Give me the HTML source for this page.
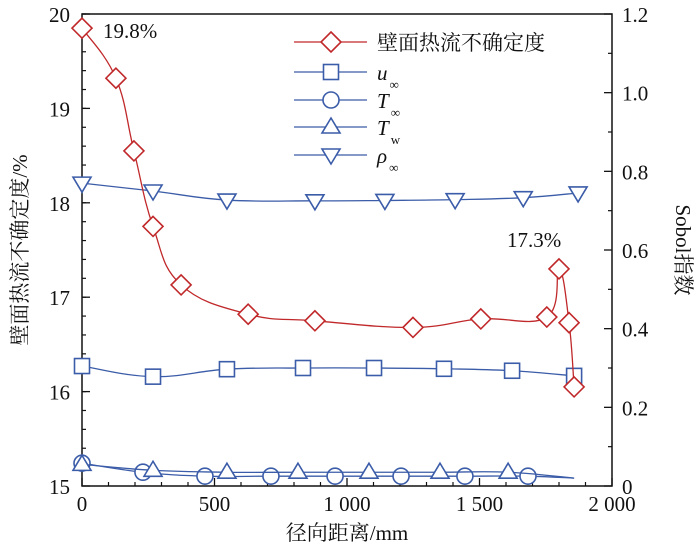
<!DOCTYPE html>
<html><head><meta charset="utf-8"><style>
body{margin:0;background:#fff}
svg text{font-family:"Liberation Serif","Times New Roman","DejaVu Serif","Noto Serif CJK SC",serif;fill:#111}
</style></head><body>
<svg width="700" height="551" viewBox="0 0 700 551">
<g id="plot"></g>
</svg>
<script>
const xs_hf=[0,128,196,268,374,627,879,1249,1505,1754,1800,1838,1857];
const hf=[19.85,19.32,18.55,17.75,17.13,16.82,16.75,16.68,16.77,16.79,17.30,16.73,16.05];
const xs_rho=[0,268,547,879,1143,1408,1665,1872];
const rho=[0.77,0.75,0.727,0.725,0.726,0.728,0.733,0.745];
const xs_u=[0,268,547,834,1102,1366,1623,1857];
const u=[0.305,0.278,0.297,0.30,0.30,0.298,0.293,0.28];
const xs_Tinf=[0,230,464,713,955,1204,1445,1683,1857];
const Tinf=[0.058,0.035,0.025,0.025,0.025,0.025,0.025,0.025,0.02];
const xs_Tw=[0,268,547,815,1083,1351,1608,1857];
const Tw=[0.055,0.04,0.035,0.035,0.035,0.035,0.035,0.02];
const xTicks=[0,500,1000,1500,2000];
const xTickLabels=["0","500","1 000","1 500","2 000"];
const yLTicks=[15,16,17,18,19,20];
const yRTicks=[0,0.2,0.4,0.6,0.8,1.0,1.2];
const yRTickLabels=["0","0.2","0.4","0.6","0.8","1.0","1.2"];

const L=82,R=612,T=14,B=486;
const X=v=>L+(v/2000)*(R-L);
const YL=v=>B-(v-15)/5*(B-T);
const YR=v=>B-(v/1.2)*(B-T);
const NS="http://www.w3.org/2000/svg";
const g=document.getElementById('plot');
function mk(tag,attrs,parent){const e=document.createElementNS(NS,tag);for(const k in attrs)e.setAttribute(k,attrs[k]);(parent||g).appendChild(e);return e;}
function smooth(pts){let d=`M${pts[0][0]},${pts[0][1]}`;for(let i=0;i<pts.length-1;i++){const p0=pts[Math.max(i-1,0)],p1=pts[i],p2=pts[i+1],p3=pts[Math.min(i+2,pts.length-1)];const t=0.2;const c1=[p1[0]+(p2[0]-p0[0])*t,p1[1]+(p2[1]-p0[1])*t];const c2=[p2[0]-(p3[0]-p1[0])*t,p2[1]-(p3[1]-p1[1])*t];d+=` C${c1[0]},${c1[1]} ${c2[0]},${c2[1]} ${p2[0]},${p2[1]}`;}return d;}
function marker(type,cx,cy,col,parent){
  const a={fill:'#fff',stroke:col,'stroke-width':1.6};let e;
  if(type==='diamond')e=mk('polygon',Object.assign({points:`${cx},${cy-10} ${cx+10},${cy} ${cx},${cy+10} ${cx-10},${cy}`},a),parent);
  else if(type==='square')e=mk('rect',Object.assign({x:cx-7.5,y:cy-7.5,width:15,height:15},a),parent);
  else if(type==='circle')e=mk('circle',Object.assign({cx:cx,cy:cy,r:8},a),parent);
  else if(type==='up')e=mk('polygon',Object.assign({points:`${cx},${cy-9} ${cx+9},${cy+6} ${cx-9},${cy+6}`},a),parent);
  else e=mk('polygon',Object.assign({points:`${cx-9},${cy-6} ${cx+9},${cy-6} ${cx},${cy+9}`},a),parent);
  return e;
}
const red='#c0282a',blue='#3b5ca8';
function series(name,xs,ys,Y,col,type,skipLast){
  const sg=mk('g',{});
  
  
  const pts=xs.map((x,i)=>[X(x),Y(ys[i])]);
  const p=mk('path',{d:smooth(pts),fill:'none',stroke:col,'stroke-width':1.3},sg);
  
  
  pts.forEach((pt,i)=>{if(skipLast&&i===pts.length-1)return;const m=marker(type,pt[0],pt[1],col,sg);
    
    });
}
const fr=mk('rect',{x:L,y:T,width:R-L,height:B-T,fill:'none',stroke:'#111','stroke-width':1.5});


xTicks.forEach((v,i)=>{mk('line',{x1:X(v),x2:X(v),y1:B,y2:B-8,stroke:'#111','stroke-width':1.3});
  const t=mk('text',{x:X(v),y:B+25,'text-anchor':'middle','font-size':21});t.textContent=xTickLabels[i];
  
  });
for(let v=100;v<2000;v+=100){if(v%500)mk('line',{x1:X(v),x2:X(v),y1:B,y2:B-4,stroke:'#111','stroke-width':1.2});}
yLTicks.forEach(v=>{mk('line',{x1:L,x2:L+8,y1:YL(v),y2:YL(v),stroke:'#111','stroke-width':1.3});
  const t=mk('text',{x:L-12,y:YL(v)+8,'text-anchor':'end','font-size':21});t.textContent=String(v);
  
  });
for(let v=15.2;v<20;v+=0.2){mk('line',{x1:L,x2:L+4,y1:YL(v),y2:YL(v),stroke:'#111','stroke-width':1.2});}
yRTicks.forEach((v,i)=>{mk('line',{x1:R,x2:R-8,y1:YR(v),y2:YR(v),stroke:'#111','stroke-width':1.3});
  const t=mk('text',{x:R+10,y:YR(v)+8,'text-anchor':'start','font-size':21});t.textContent=yRTickLabels[i];
  
  });
for(let v=0.1;v<1.2;v+=0.2){mk('line',{x1:R,x2:R-4,y1:YR(v),y2:YR(v),stroke:'#111','stroke-width':1.2});}
series('rho-series',xs_rho,rho,YR,blue,'down');
series('u-series',xs_u,u,YR,blue,'square');
series('tinf-series',xs_Tinf,Tinf,YR,blue,'circle',true);
series('tw-series',xs_Tw,Tw,YR,blue,'up',true);
series('heat-flux-series',xs_hf,hf,YL,red,'diamond');
let a=mk('text',{x:103,y:38,'font-size':21});a.textContent='19.8%';


a=mk('text',{x:507,y:247,'font-size':21});a.textContent='17.3%';


a=mk('text',{x:347,y:540,'text-anchor':'middle','font-size':21});a.textContent='径向距离/mm';


a=mk('text',{x:0,y:0,'text-anchor':'middle','font-size':21,transform:'translate(27,250) rotate(-90)'});a.textContent='壁面热流不确定度/%';


a=mk('text',{x:0,y:0,'text-anchor':'middle','font-size':21,transform:'translate(676,250) rotate(90)'});a.textContent='Sobol指数';


const lg=mk('g',{});


const leg=[['壁面热流不确定度','','diamond',red,42],['u','∞','square',blue,72],['T','∞','circle',blue,100],['T','w','up',blue,127],['ρ','∞','down',blue,155]];
leg.forEach((e,i)=>{
  const eg=mk('g',{},lg);
  
  
  mk('line',{x1:294,x2:367,y1:e[4],y2:e[4],stroke:e[3],'stroke-width':1.3},eg);
  marker(e[2],331,e[4],e[3],eg);
  const t=mk('text',{x:377,y:e[4]+8,'font-size':21},eg);
  if(i===0){t.textContent=e[0];}else{
    const s1=mk('tspan',{'font-style':'italic'},t);s1.textContent=e[0];
    const s2=mk('tspan',{dx:2,dy:9,'font-size':13},t);s2.textContent=e[1];}
});
</script>
</body></html>
